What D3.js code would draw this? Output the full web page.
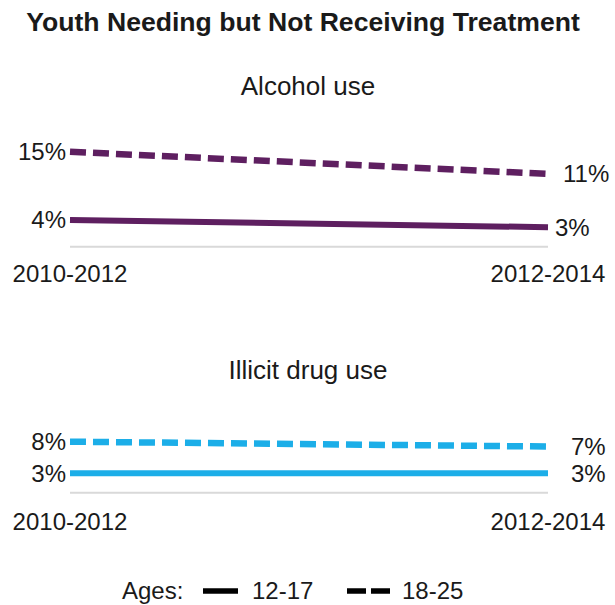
<!DOCTYPE html>
<html>
<head>
<meta charset="utf-8">
<script src="https://cdn.jsdelivr.net/npm/d3@7"></script>
<style>
  html, body { margin: 0; padding: 0; background: #fff; }
  svg text { font-family: "Liberation Sans", Arial, sans-serif; fill: #1a1a1a; }
</style>
</head>
<body>
<svg id="chart" width="615" height="605"></svg>
<script>
// ---- data ----
const title = "Youth Needing but Not Receiving Treatment";
const periods = ["2010-2012", "2012-2014"];
const panels = ["Alcohol use", "Illicit drug use"];
const ageGroups = ["12-17", "18-25"];
// values in percent, per panel: [12-17, 18-25], each over periods
const alcohol12to17 = [4.1, 3.0];
const alcohol18to25 = [14.6, 11.2];
const illicit12to17 = [3.0, 3.0];
const illicit18to25 = [7.85, 7.1];
const alcoholLabels12to17 = ["4%", "3%"];
const alcoholLabels18to25 = ["15%", "11%"];
const illicitLabels12to17 = ["3%", "3%"];
const illicitLabels18to25 = ["8%", "7%"];

// ---- styles / layout ----
const panelColors = ["#5e1f60", "#1caee8"];
const dashPattern = "16 7";
const panelLayout = [
  { baseY: 246.7, subtitleY: 95, tickY: 282, rightDx: [7, 15] },
  { baseY: 492.7, subtitleY: 379, tickY: 530, rightDx: [23, 23] }
];

const panelData = [
  { name: panels[0], series: [
      { age: ageGroups[0], values: alcohol12to17, labels: alcoholLabels12to17 },
      { age: ageGroups[1], values: alcohol18to25, labels: alcoholLabels18to25 } ] },
  { name: panels[1], series: [
      { age: ageGroups[0], values: illicit12to17, labels: illicitLabels12to17 },
      { age: ageGroups[1], values: illicit18to25, labels: illicitLabels18to25 } ] }
];

const svg = d3.select("#chart");
const x = d3.scalePoint().domain(periods).range([70, 548]);

svg.append("text")
  .attr("x", 303).attr("y", 31)
  .attr("text-anchor", "middle")
  .style("font-weight", "bold").style("font-size", "26.6px")
  .text(title);

panelData.forEach((p, pi) => {
  const L = panelLayout[pi];
  const y = d3.scaleLinear().domain([0, 20]).range([L.baseY, L.baseY - 130]);
  const g = svg.append("g");

  g.append("text")
    .attr("x", 308).attr("y", L.subtitleY)
    .attr("text-anchor", "middle")
    .style("font-size", "26px")
    .text(p.name);

  // baseline axis
  g.append("line")
    .attr("x1", x.range()[0]).attr("x2", x.range()[1])
    .attr("y1", y(0)).attr("y2", y(0))
    .attr("stroke", "#d9d9d9").attr("stroke-width", 2);

  // x tick labels
  g.selectAll(".tick").data(periods).join("text")
    .attr("x", d => x(d)).attr("y", L.tickY)
    .attr("text-anchor", "middle")
    .style("font-size", "24px")
    .text(d => d);

  const line = d3.line().x((d, i) => x(periods[i])).y(d => y(d));

  p.series.forEach((s, si) => {
    g.append("path")
      .attr("d", line(s.values))
      .attr("fill", "none")
      .attr("stroke", panelColors[pi])
      .attr("stroke-width", si === 1 ? 6.5 : 6)
      .attr("stroke-dasharray", si === 1 ? dashPattern : null);

    // left label
    g.append("text")
      .attr("x", x(periods[0]) - 4).attr("y", y(s.values[0]))
      .attr("dy", "0.35em")
      .attr("text-anchor", "end")
      .style("font-size", "24px")
      .text(s.labels[0]);
    // right label
    g.append("text")
      .attr("x", x(periods[1]) + L.rightDx[si]).attr("y", y(s.values[1]))
      .attr("dy", "0.35em")
      .attr("text-anchor", "start")
      .style("font-size", "24px")
      .text(s.labels[1]);
  });
});

// legend
const leg = svg.append("g");
leg.append("text").attr("x", 122).attr("y", 599).style("font-size", "24px").text("Ages:");
leg.append("line").attr("x1", 203).attr("x2", 238).attr("y1", 591).attr("y2", 591)
  .attr("stroke", "#000").attr("stroke-width", 5.5);
leg.append("text").attr("x", 252).attr("y", 599).style("font-size", "24px").text(ageGroups[0]);
leg.append("line").attr("x1", 347).attr("x2", 390).attr("y1", 591).attr("y2", 591)
  .attr("stroke", "#000").attr("stroke-width", 5.5).attr("stroke-dasharray", "19 5");
leg.append("text").attr("x", 402).attr("y", 599).style("font-size", "24px").text(ageGroups[1]);
</script>
</body>
</html>
